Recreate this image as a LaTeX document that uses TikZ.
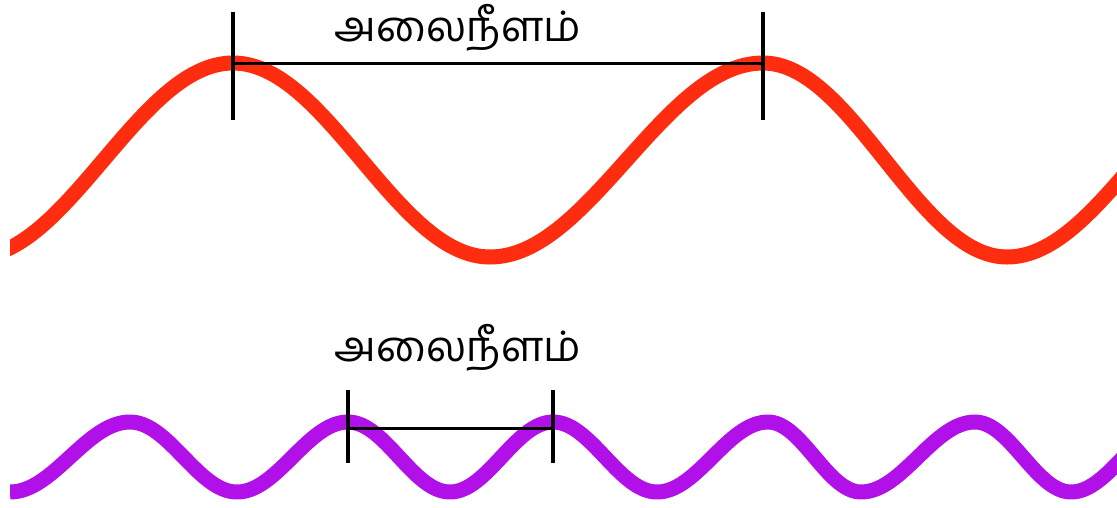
\documentclass[tikz,border=0pt]{standalone}
\usepackage{fontspec}
\newfontfamily\tamilfont[Script=Tamil]{Hind Madurai}
\definecolor{wavered}{RGB}{255,45,15}
\definecolor{wavepurple}{RGB}{178,16,232}
\begin{document}
\begin{tikzpicture}[x=1pt,y=-1pt,
  wave/.style={line width=15pt,line join=round},
  tickline/.style={line width=3.5pt,black},
  spanline/.style={line width=3pt,black},
  wlabel/.style={font=\tamilfont\fontsize{42}{48}\selectfont,anchor=base,inner sep=0pt}]
\useasboundingbox[fill=white] (0,0) rectangle (1117,507);
% red wave
\begin{scope}
\clip (10,0) rectangle (1117,507);
\draw[wave,wavered] (-26,257) cos (103.5,160) sin (233,63) cos (361.5,160) sin (490,257)
  cos (626.5,160) sin (763,63) cos (885,160) sin (1007,257) cos (1137,160) sin (1267,63);
% purple wave
\draw[wave,wavepurple] (10,492) cos (70,457) sin (130,422) cos (183.5,457) sin (237,492)
  cos (292.5,457) sin (348,422) cos (399,457) sin (450,492) cos (501.5,457) sin (553,422)
  cos (605,457) sin (657,492) cos (712.5,457) sin (768,422) cos (814.5,457) sin (861,492)
  cos (918,457) sin (975,422) cos (1023,457) sin (1071,492) cos (1123.5,457) sin (1176,422);
\end{scope}
% red wavelength marker
\coordinate (r1) at (233,63);
\coordinate (r2) at (763,63);
\coordinate (r1t) at (233,12);
\coordinate (r1b) at (233,120);
\coordinate (r2t) at (763,12);
\coordinate (r2b) at (763,120);
\draw[spanline] (r1) -- (r2);
\draw[tickline] (r1t) -- (r1b);
\draw[tickline] (r2t) -- (r2b);
\node[wlabel] (lred) at (458,41) {அலைநீளம்};
% purple wavelength marker
\coordinate (p1) at (348,428);
\coordinate (p2) at (553,428);
\coordinate (p1t) at (348,390);
\coordinate (p1b) at (348,463);
\coordinate (p2t) at (553,390);
\coordinate (p2b) at (553,463);
\draw[spanline] (p1) -- (p2);
\draw[tickline] (p1t) -- (p1b);
\draw[tickline] (p2t) -- (p2b);
\node[wlabel] (lpurple) at (458,361) {அலைநீளம்};
\end{tikzpicture}
\end{document}
